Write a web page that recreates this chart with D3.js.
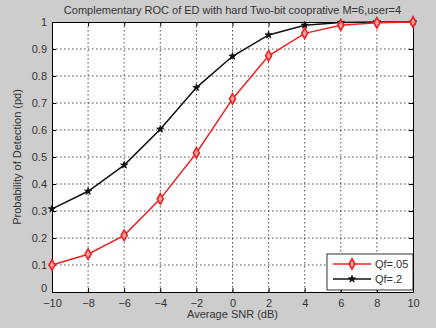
<!DOCTYPE html>
<html>
<head>
<meta charset="utf-8">
<script src="https://cdn.jsdelivr.net/npm/d3@7"></script>
<style>
  body { margin: 0; background: #cdcdcd; }
  svg { display: block; font-family: "Liberation Sans", Arial, sans-serif; }
</style>
</head>
<body>
<div id="chart"></div>
<script>
// valores
var snr = [-10, -8, -6, -4, -2, 0, 2, 4, 6, 8, 10];
var pdQf05 = [0.10, 0.14, 0.21, 0.345, 0.515, 0.715, 0.875, 0.958, 0.988, 0.997, 1.0];
var pdQf2 = [0.308, 0.373, 0.47, 0.603, 0.757, 0.873, 0.952, 0.988, 0.998, 1.0, 1.0];
var xTicks = [-10, -8, -6, -4, -2, 0, 2, 4, 6, 8, 10];
var yTicks = [0, 0.1, 0.2, 0.3, 0.4, 0.5, 0.6, 0.7, 0.8, 0.9, 1];
var legendLabels = ["Qf=.05", "Qf=.2"];

var W = 436, H = 328;
var margin = { top: 22, right: 23, bottom: 36, left: 52 };
var width = W - margin.left - margin.right;
var height = H - margin.top - margin.bottom;

var svg = d3.select("#chart")
            .append("svg")
            .attr("width", W)
            .attr("height", H);

svg.append("rect").attr("width", W).attr("height", H).attr("fill", "#cdcdcd");

var g = svg.append("g")
           .attr("transform", "translate(" + margin.left + "," + margin.top + ")");

var xScale = d3.scaleLinear().domain([-10, 10]).range([0, width]);
var yScale = d3.scaleLinear().domain([0, 1]).range([height, 0]);

g.append("rect")
 .attr("width", width).attr("height", height)
 .attr("fill", "white");

// grade pontilhada
g.selectAll(".gx")
 .data(xTicks.slice(1, -1))
 .enter().append("line")
 .attr("x1", function(d) { return xScale(d); })
 .attr("x2", function(d) { return xScale(d); })
 .attr("y1", 0).attr("y2", height)
 .attr("stroke", "#222").attr("stroke-width", 0.8)
 .attr("stroke-dasharray", "1.5,2.5");

g.selectAll(".gy")
 .data(yTicks.slice(1, -1))
 .enter().append("line")
 .attr("y1", function(d) { return yScale(d); })
 .attr("y2", function(d) { return yScale(d); })
 .attr("x1", 0).attr("x2", width)
 .attr("stroke", "#222").attr("stroke-width", 0.8)
 .attr("stroke-dasharray", "1.5,2.5");

// eixos
var axX = g.append("g")
  .attr("transform", "translate(0," + height + ")")
  .call(d3.axisBottom(xScale).tickValues(xTicks).tickSizeInner(-4).tickSizeOuter(0).tickPadding(7));
var axY = g.append("g")
  .call(d3.axisLeft(yScale).tickValues(yTicks).tickSizeInner(-4).tickSizeOuter(0).tickPadding(5)
        .tickFormat(function(d) { return d === 0 || d === 1 ? d : d3.format(".1f")(d); }));
g.append("g")
  .call(d3.axisTop(xScale).tickValues(xTicks).tickSizeInner(-4).tickSizeOuter(0).tickFormat(""));
g.append("g")
  .attr("transform", "translate(" + width + ",0)")
  .call(d3.axisRight(yScale).tickValues(yTicks).tickSizeInner(-4).tickSizeOuter(0).tickFormat(""));

svg.selectAll(".domain").attr("stroke", "#000");
svg.selectAll(".tick line").attr("stroke", "#000");
svg.selectAll(".tick text").attr("fill", "#333").style("font-size", "11px");
// o "0" fica um pouco acima, como no original
axY.selectAll(".tick text").filter(function(d) { return d === 0; }).attr("dy", "-0.05em");

// linhas
var line = d3.line()
  .x(function(d, i) { return xScale(snr[i]); })
  .y(function(d) { return yScale(d); });

g.append("path").datum(pdQf2)
 .attr("d", line).attr("fill", "none")
 .attr("stroke", "#111").attr("stroke-width", 1.5);

g.append("path").datum(pdQf05)
 .attr("d", line).attr("fill", "none")
 .attr("stroke", "#ee2222").attr("stroke-width", 1.5);

// marcadores
var diamond = d3.symbol().type(d3.symbolDiamond).size(32);
var star = d3.symbol().type(d3.symbolStar).size(16);

g.selectAll(".m2")
 .data(pdQf2).enter().append("path")
 .attr("d", star)
 .attr("transform", function(d, i) { return "translate(" + xScale(snr[i]) + "," + yScale(d) + ")"; })
 .attr("fill", "#111").attr("stroke", "#111").attr("stroke-width", 0.8);

g.selectAll(".m05")
 .data(pdQf05).enter().append("path")
 .attr("d", diamond)
 .attr("transform", function(d, i) { return "translate(" + xScale(snr[i]) + "," + yScale(d) + ")"; })
 .attr("fill", "#f6a0a0").attr("stroke", "#ee2222").attr("stroke-width", 1.6);

// legenda
var lg = svg.append("g").attr("transform", "translate(327,254)");
lg.append("rect").attr("width", 86).attr("height", 36)
  .attr("fill", "white").attr("stroke", "#000").attr("stroke-width", 0.8);

var lgColors = ["#ee2222", "#111"];
legendLabels.forEach(function(lab, i) {
  var yy = 10 + i * 15;
  lg.append("line").attr("x1", 6).attr("x2", 44).attr("y1", yy).attr("y2", yy)
    .attr("stroke", lgColors[i]).attr("stroke-width", 1.5);
  lg.append("path")
    .attr("d", i === 0 ? diamond : star)
    .attr("transform", "translate(25," + yy + ")")
    .attr("fill", i === 0 ? "#f6a0a0" : "#111")
    .attr("stroke", lgColors[i]).attr("stroke-width", i === 0 ? 1.6 : 0.8);
  lg.append("text").attr("x", 48).attr("y", yy + 4)
    .attr("fill", "#333").style("font-size", "11px").text(lab);
});

// títulos
svg.append("text")
   .attr("x", margin.left + width / 2).attr("y", 14)
   .attr("text-anchor", "middle").attr("fill", "#333")
   .style("font-size", "11px")
   .text("Complementary ROC of ED with hard Two-bit cooprative M=6,user=4");

svg.append("text")
   .attr("x", margin.left + width / 2).attr("y", 318)
   .attr("text-anchor", "middle").attr("fill", "#333")
   .style("font-size", "11px")
   .text("Average SNR (dB)");

svg.append("text")
   .attr("transform", "translate(21," + (margin.top + height / 2) + ") rotate(-90)")
   .attr("text-anchor", "middle").attr("fill", "#333")
   .style("font-size", "11px")
   .text("Probability of Detection (pd)");
</script>
</body>
</html>
